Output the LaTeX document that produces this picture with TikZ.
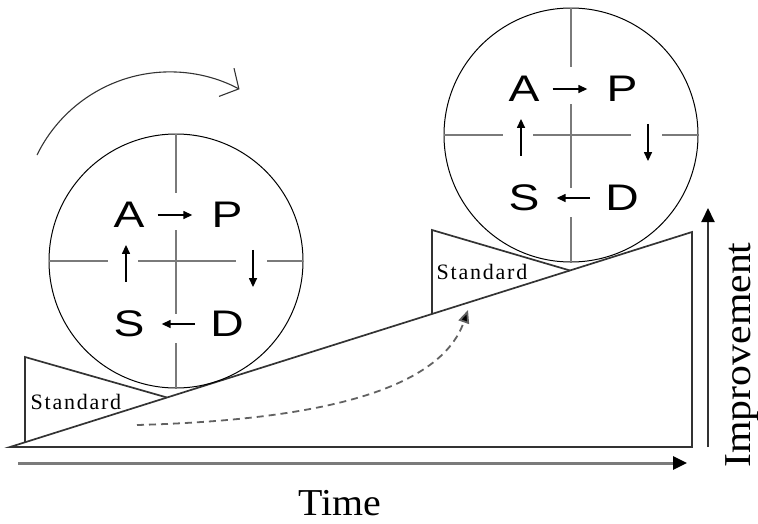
\documentclass[tikz,border=0pt]{standalone}
\usepackage{fontspec}
\setmainfont{Liberation Serif}
\newfontfamily\lettersfont{Liberation Sans}
\usetikzlibrary{arrows.meta,calc}
\definecolor{mainline}{HTML}{333333}
\definecolor{crossgray}{HTML}{7A7A7A}
\tikzset{
  mainstroke/.style={draw=mainline,line width=1.7pt,line join=miter},
  crossline/.style={draw=crossgray,line width=2.2pt},
  letter/.style={inner sep=0pt,font=\lettersfont\fontsize{37}{37}\selectfont,xscale=1.25},
  smallarr/.style={draw=black,line width=1.4pt,-{Triangle[length=9pt,width=8pt]}},
  stdlabel/.style={inner sep=0pt,font=\fontsize{22}{22}\selectfont\addfontfeatures{LetterSpace=8}},
  pdsa/.pic={
    \node[circle,draw=black,line width=1pt,minimum size=254pt,inner sep=0pt] (-c) at (0,0) {};
    % crosshair
    \draw[crossline] (0,-127) -- (0,-68);
    \draw[crossline] (0,-31) -- (0,53);
    \draw[crossline] (0,82) -- (0,127);
    \draw[crossline] (-127,0) -- (-68,0);
    \draw[crossline] (-38,0) -- (60,0);
    \draw[crossline] (91,0) -- (127,0);
    % letters
    \node[letter] (-A) at (-47,-46) {A};
    \node[letter] (-P) at (51,-46) {P};
    \node[letter] (-S) at (-47,63) {S};
    \node[letter] (-D) at (51,63) {D};
    % cycle arrows
    \draw[smallarr,shorten <=13pt,shorten >=19pt] (-A.east) -- (-P.west);
    \draw[smallarr,shorten <=22pt,shorten >=24pt] ([xshift=26pt]-P.south) -- ([xshift=26pt]-D.north);
    \draw[smallarr,shorten <=15pt,shorten >=17pt] (-D.west) -- (-S.east);
    \draw[smallarr,shorten <=29pt,shorten >=17pt] ([xshift=-3pt]-S.north) -- ([xshift=-3pt]-A.south);
  }
}
\begin{document}
\begin{tikzpicture}[x=1pt,y=-1pt]
\useasboundingbox (0,0) rectangle (758,523);
% main wedge
\coordinate (O) at (10,447);
\coordinate (BR) at (692,447);
\coordinate (TR) at (692,232);
\draw[mainstroke] (O) -- (BR) -- (TR) -- cycle;
% left standard wedge
\coordinate (LW1) at (25,442.3);
\coordinate (LW2) at (25,357);
\coordinate (LW3) at (167,397.5);
\draw[mainstroke] (LW1) -- (LW2) -- (LW3);
\node[stdlabel] (std1) at (76,402) {Standard};
% right standard wedge
\coordinate (RW1) at (432,314);
\coordinate (RW2) at (432,230);
\coordinate (RW3) at (570,270.5);
\draw[mainstroke] (RW1) -- (RW2) -- (RW3);
\node[stdlabel] (std2) at (482,272) {Standard};
% PDSA wheels
\pic (w1) at (176,261) {pdsa};
\pic (w2) at (571,135) {pdsa};
% rotation arrow
\coordinate (rotS) at (37,155);
\draw[draw=mainline,line width=1.1pt,-{Straight Barb[length=14pt,width=32pt,line width=1.1pt]}] (rotS) arc[start angle=154,end angle=62,radius=148pt];
% dashed progress arrow
\coordinate (dS) at (137,425);
\coordinate (dE) at (468,310);
\draw[draw=crossgray!80!black,line width=1.8pt,dash pattern=on 7pt off 5pt,-{Triangle[length=13pt,width=11pt,fill=black]}] (dS) .. controls (320,420) and (440,390) .. (dE);
% time axis
\coordinate (t0) at (18,463);
\coordinate (t1) at (687,463);
\draw[draw=crossgray,line width=3pt,-{Triangle[length=14pt,width=13pt,color=black]}] (t0) -- (t1);
\node[anchor=base,inner sep=0pt,font=\fontsize{38}{38}\selectfont,xscale=1.05] (time) at (340,515) {Time};
% improvement axis
\coordinate (i0) at (708,447);
\coordinate (i1) at (708,208);
\draw[draw=mainline,line width=2pt,-{Triangle[length=14pt,width=13pt,color=black]}] (i0) -- (i1);
\node[anchor=base,rotate=90,inner sep=0pt,font=\fontsize{38}{38}\selectfont,xscale=1.1] (impr) at (750,355) {Improvement};
\end{tikzpicture}
\end{document}
